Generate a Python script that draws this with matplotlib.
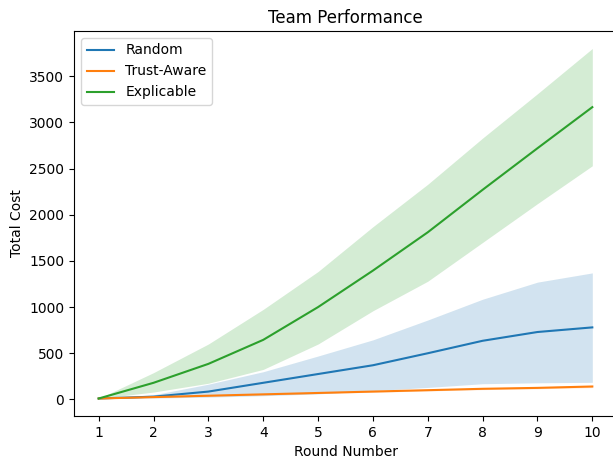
import matplotlib
matplotlib.use("Agg")
import matplotlib.pyplot as plt
import numpy as np

rounds = np.arange(1, 11)

# mean and band (lower / upper) for each strategy
random_mean  = [10, 30, 85, 180, 275, 370, 500, 635, 730, 780]
random_low   = [10, 15, 25, 40, 60, 95, 130, 170, 180, 185]
random_high  = [10, 50, 165, 300, 470, 645, 860, 1085, 1270, 1370]

trust_mean   = [10, 25, 40, 55, 70, 85, 100, 115, 125, 140]
trust_low    = [10, 22, 36, 50, 64, 78, 92, 106, 115, 128]
trust_high   = [10, 28, 44, 60, 76, 92, 108, 124, 135, 152]

expl_mean    = [10, 180, 385, 645, 1000, 1395, 1810, 2270, 2720, 3165]
expl_low     = [10, 80, 175, 325, 600, 960, 1280, 1700, 2120, 2530]
expl_high    = [10, 290, 600, 975, 1385, 1870, 2330, 2830, 3310, 3800]

labels = ["Random", "Trust-Aware", "Explicable"]

fig = plt.figure(figsize=(6.13, 4.59), dpi=100)
ax = fig.add_axes([74 / 613, 1 - 416 / 459, (617 - 74) / 613, (416 - 31) / 459])

series = [
    (random_mean, random_low, random_high),
    (trust_mean, trust_low, trust_high),
    (expl_mean, expl_low, expl_high),
]
for (mean, low, high), lab in zip(series, labels):
    line, = ax.plot(rounds, mean, label=lab)
    ax.fill_between(rounds, low, high, color=line.get_color(), alpha=0.2, linewidth=0)

ax.set_xticks(rounds)
ax.set_xlabel("Round Number")
ax.set_ylabel("Total Cost")
ax.set_title("Team Performance")
ax.legend(loc="upper left")

fig.savefig("out.png", dpi=100)
